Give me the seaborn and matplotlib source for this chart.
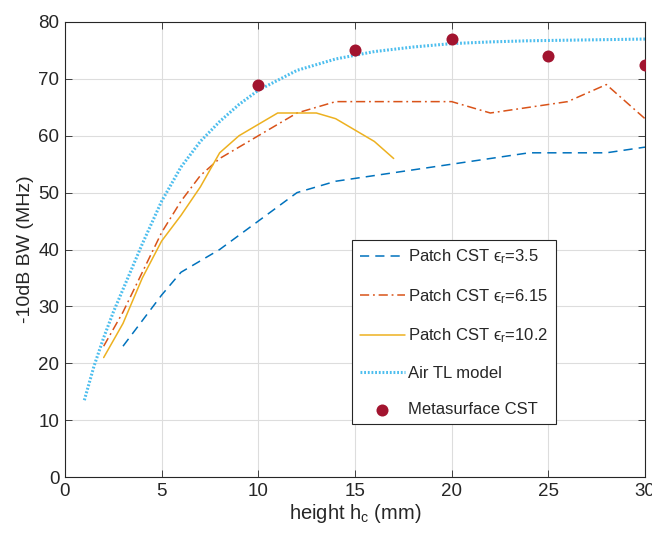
import numpy as np
import pandas as pd
import matplotlib
matplotlib.use("Agg")
import matplotlib.pyplot as plt
import seaborn as sns

# ---- data ----
h_35 = [3, 4, 5, 6, 8, 9, 10, 12, 14, 16, 18, 20, 22, 24, 26, 28, 30]
bw_35 = [23, 27.5, 32, 36, 40, 42.5, 45, 50, 52, 53, 54, 55, 56, 57, 57, 57, 58]

h_615 = [2, 3, 4, 5, 6, 7, 8, 9, 10, 12, 14, 16, 18, 20, 22, 24, 26, 28, 30]
bw_615 = [23, 29, 36, 43, 48.5, 53, 56, 58, 60, 64, 66, 66, 66, 66, 64, 65, 66, 69, 63]

h_102 = [2, 3, 4, 5, 6, 7, 8, 9, 10, 11, 12, 13, 14, 15, 16, 17]
bw_102 = [21, 27, 35, 41.5, 46, 51, 57, 60, 62, 64, 64, 64, 63, 61, 59, 56]

h_air = [1, 1.5, 2, 2.5, 3, 4, 5, 6, 7, 8, 9, 10, 12, 14, 16, 18, 20, 22, 24, 26, 28, 30]
bw_air = [13.5, 19.5, 24.5, 29, 33, 41, 48.5, 54.5, 59, 62.5, 65.5, 68, 71.5, 73.5, 74.8, 75.6, 76.2, 76.5, 76.7, 76.8, 76.9, 77]

h_meta = [10, 15, 20, 25, 30]
bw_meta = [69, 75, 77, 74, 72.5]

labels = ["Patch CST \u03f5$_{\\rm r}$=3.5",
          "Patch CST \u03f5$_{\\rm r}$=6.15",
          "Patch CST \u03f5$_{\\rm r}$=10.2",
          "Air TL model",
          "Metasurface CST"]
x_ticks = [0, 5, 10, 15, 20, 25, 30]
y_ticks = [0, 10, 20, 30, 40, 50, 60, 70, 80]

sns.set_theme(style="whitegrid")
plt.rcParams["font.family"] = ["Liberation Sans", "DejaVu Sans"]
plt.rcParams["mathtext.fontset"] = "custom"
plt.rcParams["mathtext.rm"] = "Liberation Sans"
plt.rcParams["mathtext.it"] = "Liberation Sans:italic"

fig = plt.figure(figsize=(6.52, 5.36), dpi=100)
ax = fig.add_axes([65/652, 59/536, 580/652, 455/536])

df35 = pd.DataFrame({"h": h_35, "bw": bw_35})
df615 = pd.DataFrame({"h": h_615, "bw": bw_615})
df102 = pd.DataFrame({"h": h_102, "bw": bw_102})
dfair = pd.DataFrame({"h": h_air, "bw": bw_air})
dfmeta = pd.DataFrame({"h": h_meta, "bw": bw_meta})

sns.lineplot(data=df35, x="h", y="bw", ax=ax, color="#0072BD", lw=1.1,
             linestyle=(0, (6, 4)), label=labels[0])
sns.lineplot(data=df615, x="h", y="bw", ax=ax, color="#D95319", lw=1.1,
             linestyle=(0, (6, 2.5, 1.2, 2.5)), label=labels[1])
sns.lineplot(data=df102, x="h", y="bw", ax=ax, color="#EDB120", lw=1.1,
             linestyle="-", label=labels[2])
sns.lineplot(data=dfair, x="h", y="bw", ax=ax, color="#4DBEEE", lw=2.2,
             linestyle=(0, (0.6, 0.6)), label=labels[3])
sns.scatterplot(data=dfmeta, x="h", y="bw", ax=ax, color="#A2142F", s=75,
                edgecolor="#A2142F", linewidth=0, label=labels[4], zorder=5)

ax.set_xlim(0, 30)
ax.set_ylim(0, 80)
ax.set_xticks(x_ticks)
ax.set_yticks(y_ticks)
ax.set_xlabel(r"height h$_{\rm c}$ (mm)", fontsize=14.5, color="#262626", labelpad=2)
ax.set_ylabel("-10dB BW (MHz)", fontsize=14, color="#262626", labelpad=3)
ax.tick_params(axis="both", labelsize=13.5, colors="#262626", direction="in",
               length=5, width=0.6, top=True, right=True, bottom=True, left=True,
               pad=4)
ax.grid(True, color="#DDDDDD", lw=0.8)
for s in ax.spines.values():
    s.set_visible(True)
    s.set_color("#262626")
    s.set_linewidth(0.8)

leg = ax.legend(loc="upper left", bbox_to_anchor=(0.495, 0.521), fontsize=12,
                frameon=True, fancybox=False, edgecolor="#262626",
                labelspacing=1.25, handlelength=2.7, handletextpad=0.2,
                borderpad=0.45, borderaxespad=0, framealpha=1)
leg.get_frame().set_linewidth(0.8)

fig.savefig("out.png", dpi=100)
